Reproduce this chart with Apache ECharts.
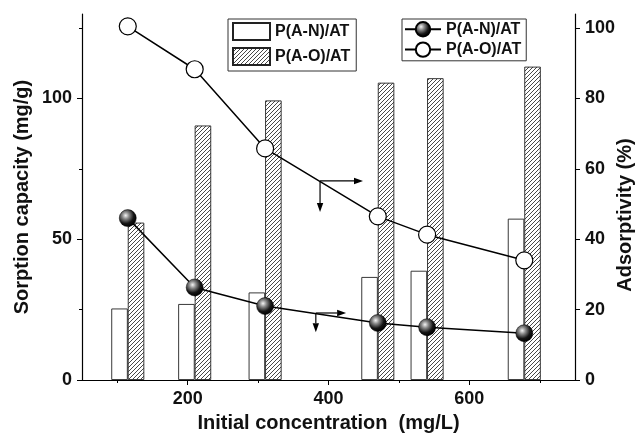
<!DOCTYPE html>
<html><head><meta charset="utf-8">
<script src="https://cdn.jsdelivr.net/npm/echarts@6/dist/echarts.min.js"></script>
<style>html,body{margin:0;padding:0;background:#fff}#c{width:641px;height:439px}</style>
</head><body><div id="c"></div>
<script>
const concentrations = [115, 210, 310, 470, 540, 678];
const capacityAN = [25.4, 27, 31.1, 36.6, 38.8, 57.3];
const capacityAO = [55.9, 90.4, 99.3, 105.6, 107.2, 111.3];
const adsorptivityAN = [46, 26.3, 21, 16.2, 15, 13.3];
const adsorptivityAO = [100.5, 88.3, 65.8, 46.5, 41.3, 34];
const xMajorTicks = [200, 400, 600];
const xMinorTicks = [100, 300, 500, 700];
const leftMajorTicks = [0, 50, 100];
const leftMinorTicks = [25, 75, 125];
const rightTicks = [0, 20, 40, 60, 80, 100];
const seriesLabels = {barAN: 'P(A-N)/AT', barAO: 'P(A-O)/AT', lineAN: 'P(A-N)/AT', lineAO: 'P(A-O)/AT'};
// annotation arrows in data coords (left axis): [origin, horizontal tip, vertical tip]
const arrowsData = [
  [[388, 70.7], [449, 70.7], [388, 59.7]],
  [[382, 23.8], [425, 23.8], [382, 17]]
];

const FONT = '"Liberation Sans", Arial, Helvetica, sans-serif';
const pat = document.createElement('canvas');
pat.width = 4; pat.height = 4;
const g = pat.getContext('2d');
g.fillStyle = '#fff'; g.fillRect(0, 0, 4, 4);
g.strokeStyle = '#333'; g.lineWidth = 0.9;
g.beginPath();
g.moveTo(-1, 5); g.lineTo(5, -1);
g.moveTo(-1, 1); g.lineTo(1, -1);
g.moveTo(3, 5); g.lineTo(5, 3);
g.stroke();

const zip = (xs, ys) => xs.map((x, i) => [x, ys[i]]);
const chart = echarts.init(document.getElementById('c'), null, {renderer: 'canvas'});
const labelStyle = {color: '#111', fontFamily: FONT, fontWeight: 'bold', fontSize: 18};
const nameStyle = {color: '#111', fontFamily: FONT, fontWeight: 'bold', fontSize: 20};
const legendText = {color: '#111', fontFamily: FONT, fontWeight: 'bold', fontSize: 16};
const sphere = {type: 'radial', x: 0.38, y: 0.35, r: 0.65, colorStops: [
  {offset: 0, color: '#f4f4f4'}, {offset: 0.3, color: '#8a8a8a'}, {offset: 0.7, color: '#151515'}, {offset: 1, color: '#000'}]};

chart.setOption({
  animation: false,
  backgroundColor: '#fff',
  grid: {left: 82, right: 66, top: 14, bottom: 59, outerBoundsMode: 'none', containLabel: false},
  legend: [
    {left: 228, top: 19, orient: 'vertical', data: ['barAN', 'barAO'], formatter: n => seriesLabels[n],
     icon: 'rect', itemWidth: 37, itemHeight: 17, itemGap: 6, padding: [3, 6, 5, 4], borderColor: '#333', borderWidth: 1,
     selectedMode: false, textStyle: legendText},
    {left: 402, top: 19, orient: 'vertical', data: ['lineAN', 'lineAO'], formatter: n => seriesLabels[n],
     itemWidth: 36, itemHeight: 18, itemGap: 4, padding: [2, 5, 3, 2], borderColor: '#333', borderWidth: 1,
     selectedMode: false, textStyle: legendText}
  ],
  xAxis: [
    {type: 'value', min: 50, max: 750, position: 'bottom',
     name: 'Initial concentration  (mg/L)', nameLocation: 'middle', nameGap: 33, nameTextStyle: nameStyle,
     axisLine: {show: true, lineStyle: {color: '#000', width: 1.2}},
     axisTick: {show: true, customValues: xMajorTicks, length: 5, lineStyle: {color: '#000'}},
     axisLabel: {customValues: xMajorTicks, margin: 10, ...labelStyle},
     splitLine: {show: false}},
    {type: 'value', min: 50, max: 750, position: 'bottom',
     axisLine: {show: false}, axisLabel: {show: false}, splitLine: {show: false},
     axisTick: {show: true, customValues: xMinorTicks, length: 3, lineStyle: {color: '#000'}}},
    {type: 'value', min: 50, max: 750, position: 'top',
     axisLine: {show: true, lineStyle: {color: '#000', width: 1.2}}, axisLabel: {show: false}, splitLine: {show: false},
     axisTick: {show: true, inside: true, customValues: xMinorTicks.concat(xMajorTicks), length: 3, lineStyle: {color: '#000'}}}
  ],
  yAxis: [
    {type: 'value', min: 0, max: 130, position: 'left',
     name: 'Sorption capacity (mg/g)', nameLocation: 'middle', nameRotate: 90, nameGap: 50, nameMoveOverlap: false, nameTextStyle: nameStyle,
     axisLine: {show: true, lineStyle: {color: '#000', width: 1.2}},
     axisTick: {show: true, customValues: leftMajorTicks, length: 5, lineStyle: {color: '#000'}},
     axisLabel: {customValues: leftMajorTicks, margin: 10, ...labelStyle},
     splitLine: {show: false}},
    {type: 'value', min: 0, max: 104, position: 'right',
     name: 'Adsorptivity (%)', nameLocation: 'middle', nameRotate: 90, nameGap: 40, nameMoveOverlap: false,
     nameTextStyle: {...nameStyle, padding: [0, 36, 0, 0]},
     axisLine: {show: true, lineStyle: {color: '#000', width: 1.2}},
     axisTick: {show: true, customValues: rightTicks, length: 5, lineStyle: {color: '#000'}},
     axisLabel: {customValues: rightTicks, margin: 10, ...labelStyle},
     splitLine: {show: false}},
    {type: 'value', min: 0, max: 130, position: 'left',
     axisLine: {show: false}, axisLabel: {show: false}, splitLine: {show: false},
     axisTick: {show: true, customValues: leftMinorTicks, length: 3, lineStyle: {color: '#000'}}}
  ],
  series: [
    {name: 'barAN', type: 'bar', xAxisIndex: 0, yAxisIndex: 0, data: zip(concentrations, capacityAN),
     barWidth: 16.5, barGap: '0%', itemStyle: {color: '#fff', borderColor: '#222', borderWidth: 0.9}, z: 1},
    {name: 'barAO', type: 'bar', xAxisIndex: 0, yAxisIndex: 0, data: zip(concentrations, capacityAO),
     barWidth: 16.5, barGap: '0%', itemStyle: {color: {image: pat, repeat: 'repeat'}, borderColor: '#222', borderWidth: 0.9}, z: 1},
    {name: 'lineAN', type: 'line', xAxisIndex: 0, yAxisIndex: 1, data: zip(concentrations, adsorptivityAN),
     symbol: 'circle', symbolSize: 17, lineStyle: {color: '#000', width: 1.5},
     itemStyle: {color: sphere, borderColor: '#000', borderWidth: 0.5}, z: 3},
    {name: 'lineAO', type: 'line', xAxisIndex: 0, yAxisIndex: 1, data: zip(concentrations, adsorptivityAO),
     symbol: 'circle', symbolSize: 17, lineStyle: {color: '#000', width: 1.5},
     itemStyle: {color: '#fff', borderColor: '#000', borderWidth: 1.2}, z: 3}
  ]
});

function arrowGraphics(p0, tip) {
  const dx = tip[0] - p0[0], dy = tip[1] - p0[1];
  const len = Math.hypot(dx, dy), ux = dx / len, uy = dy / len;
  const hl = 9, hw = 3.2;
  const base = [tip[0] - ux * hl, tip[1] - uy * hl];
  return [
    {type: 'line', shape: {x1: p0[0], y1: p0[1], x2: base[0], y2: base[1]}, style: {stroke: '#000', lineWidth: 1.2}, z: 10},
    {type: 'polygon', shape: {points: [tip, [base[0] - uy * hw, base[1] + ux * hw], [base[0] + uy * hw, base[1] - ux * hw]]},
     style: {fill: '#000'}, z: 10}
  ];
}
const gfx = [];
arrowsData.forEach(a => {
  const o = chart.convertToPixel({xAxisIndex: 0, yAxisIndex: 0}, a[0]);
  const h = chart.convertToPixel({xAxisIndex: 0, yAxisIndex: 0}, a[1]);
  const v = chart.convertToPixel({xAxisIndex: 0, yAxisIndex: 0}, a[2]);
  gfx.push(...arrowGraphics(o, h), ...arrowGraphics(o, v));
});
chart.setOption({graphic: gfx});
</script></body></html>
